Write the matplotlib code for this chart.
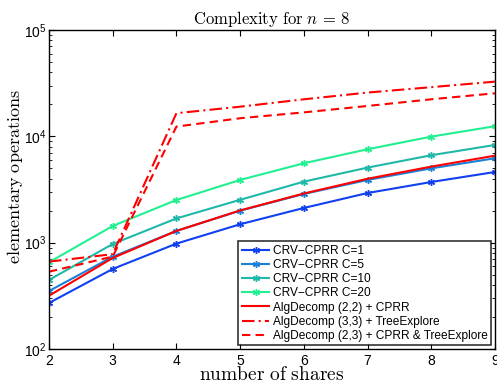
import numpy as np
import matplotlib
matplotlib.use("Agg")
import matplotlib.pyplot as plt

# data
shares = [2, 3, 4, 5, 6, 7, 8, 9]
crv_c1 = [271, 566, 980, 1490, 2120, 2930, 3720, 4620]
crv_c5 = [351, 738, 1290, 2000, 2870, 3890, 5000, 6220]
crv_c10 = [446, 972, 1690, 2530, 3750, 5080, 6640, 8300]
crv_c20 = [654, 1436, 2520, 3890, 5580, 7560, 9940, 12450]
alg22_cprr = [317, 718, 1290, 2010, 2900, 3990, 5190, 6580]
alg33_tree = [663, 780, 16500, 19000, 22300, 25800, 29000, 32700]
alg23_both = [533, 740, 12350, 14800, 16800, 19300, 22300, 25400]

labels = ["CRV\u2212CPRR C=1", "CRV\u2212CPRR C=5", "CRV\u2212CPRR C=10",
          "CRV\u2212CPRR C=20", "AlgDecomp (2,2) + CPRR",
          "AlgDecomp (3,3) + TreeExplore",
          "AlgDecomp (2,3) + CPRR & TreeExplore"]

plt.rcParams['mathtext.fontset'] = 'cm'
plt.rcParams['font.family'] = ['Liberation Sans', 'DejaVu Sans']

fig = plt.figure(figsize=(4.97, 3.87), dpi=100)
ax = fig.add_axes([49/497, 1-349/387, 446/497, 319/387])

star = (6, 2, 0)
ax.plot(shares, crv_c1, color='#1040f0', lw=1.5, marker=star, ms=5, label=labels[0])
ax.plot(shares, crv_c5, color='#1a80d8', lw=1.5, marker=star, ms=5, label=labels[1])
ax.plot(shares, crv_c10, color='#20b8a8', lw=1.5, marker=star, ms=5, label=labels[2])
ax.plot(shares, crv_c20, color='#20f090', lw=1.5, marker=star, ms=5, label=labels[3])
ax.plot(shares, alg22_cprr, color='#ff0000', lw=1.5, label=labels[4])
ax.plot(shares, alg33_tree, color='#ff0000', lw=1.5, ls=(0, (6, 2, 1, 2)), label=labels[5])
ax.plot(shares, alg23_both, color='#ff0000', lw=1.5, ls=(0, (4, 2.5)), label=labels[6])

ax.set_yscale('log')
ax.set_xlim(2, 9)
ax.set_ylim(1e2, 1e5)
ax.set_xticks(shares)
ax.tick_params(which='both', direction='in', top=True, right=True, labelsize=10)
ax.tick_params(axis='y', pad=2)
ax.tick_params(which='major', length=4)
ax.tick_params(which='minor', length=2)
for s in ax.spines.values():
    s.set_linewidth(1.0)

ax.set_title(r'$\mathrm{Complexity\ for\ }n\,=\,8$', fontsize=12, pad=4)
ax.set_xlabel(r'$\mathrm{number\ of\ shares}$', fontsize=14, labelpad=-1)
ax.set_ylabel(r'$\mathrm{elementary\ operations}$', fontsize=13)
ax.yaxis.set_label_coords(-0.054, 0.54)

leg = ax.legend(loc='lower right', fontsize=8.6, frameon=True, fancybox=False,
                edgecolor='black', handlelength=2.3, handletextpad=0.3,
                labelspacing=0.18, borderpad=0.3, borderaxespad=0.3)
leg.get_frame().set_linewidth(1.2)

fig.savefig('out.png', dpi=100)
